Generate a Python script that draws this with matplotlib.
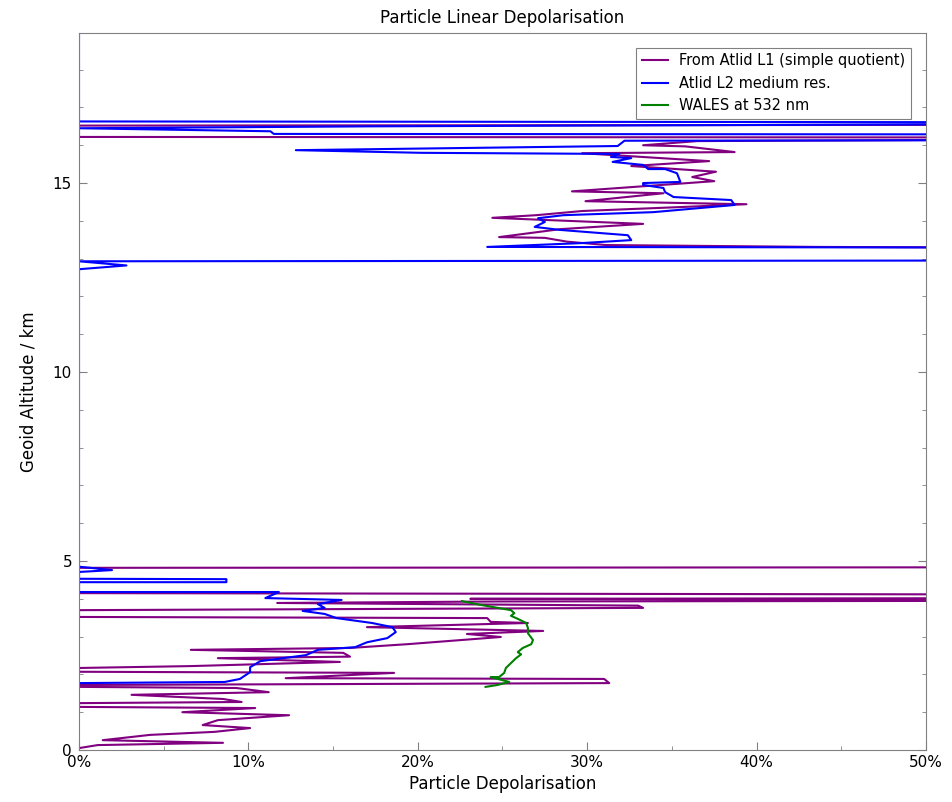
import numpy as np
import matplotlib
matplotlib.use("Agg")
import matplotlib.pyplot as plt
from matplotlib.ticker import MultipleLocator, PercentFormatter

# depolarisation in %, altitude in km (values beyond 50 % are off-scale)
l1_upper_dep = [80, 0.0, 0.0, 80, 36.5, 33.3, 35.8, 38.7, 29.7, 37.2, 32.6, 37.6, 36.2, 37.5,
                29.1, 34.5, 29.9, 39.4, 35.8, 29.7, 27.0, 24.4, 33.3, 28.4, 24.8, 27.5,
                28.8, 31.1, 43.7, 80]
l1_upper_alt = [16.55, 16.52, 16.22, 16.2, 16.11, 16.0, 15.97, 15.82, 15.79, 15.58, 15.45, 15.3,
                15.16, 15.05, 14.78, 14.73, 14.52, 14.44, 14.37, 14.26, 14.15, 14.08, 13.92,
                13.78, 13.57, 13.55, 13.45, 13.36, 13.31, 13.26]

l1_lower_dep = [0.0, 1.1, 8.5, 1.4, 4.2, 8.0, 10.1, 7.3, 8.2, 12.4, 6.1, 10.4, 0.0, 0.0, 9.6,
                8.5, 3.1, 11.2, 9.3, 0.0, 0.0, 31.3, 31.0, 12.2, 18.6, 0.0, 0.0, 6.6, 15.4,
                8.2, 16.0, 15.6, 6.6, 16.0, 19.4, 24.9, 22.9, 27.4, 17.0, 26.5, 24.3, 24.1,
                0.0, 0.0, 33.3, 33.0, 11.7, 24.8, 80, 23.1, 80, 80, 0.0, 0.0, 80]
l1_lower_alt = [0.05, 0.13, 0.19, 0.26, 0.40, 0.48, 0.58, 0.66, 0.79, 0.92, 1.00, 1.11, 1.14,
                1.24, 1.27, 1.35, 1.46, 1.53, 1.64, 1.67, 1.72, 1.77, 1.88, 1.90, 2.04, 2.07,
                2.17, 2.22, 2.33, 2.43, 2.47, 2.57, 2.65, 2.70, 2.80, 2.99, 3.07, 3.15, 3.25,
                3.36, 3.39, 3.49, 3.52, 3.70, 3.76, 3.82, 3.89, 3.93, 3.96, 4.00, 4.03, 4.10,
                4.15, 4.82, 4.84]

l2_upper_dep = [0.0, 0.0, 80, 17.1, 0.0, 11.3, 11.5, 80, 80, 32.2, 31.8, 12.8, 20.2, 31.9,
                31.4, 32.6, 31.5, 33.3, 33.6, 34.6, 35.3, 35.5, 33.3, 33.3, 34.5, 34.6, 35.1,
                38.5, 38.7, 33.9, 28.6, 27.1, 27.5, 26.9, 28.4, 32.4, 32.6, 29.6, 24.1, 80,
                80, 0.0, 2.8, 0.0]
l2_upper_alt = [18.97, 16.63, 16.6, 16.5, 16.45, 16.37, 16.3, 16.28, 16.15, 16.12, 15.98, 15.87,
                15.8, 15.77, 15.69, 15.66, 15.56, 15.48, 15.37, 15.37, 15.26, 15.03, 15.0,
                14.95, 14.87, 14.76, 14.63, 14.55, 14.42, 14.23, 14.15, 14.07, 13.97, 13.84,
                13.76, 13.62, 13.49, 13.41, 13.31, 13.28, 12.96, 12.93, 12.82, 12.72]

l2_lower_dep = [0.0, 0.0, 1.95, 0.0, 0.0, 8.7, 8.7, 0.0, 0.0, 11.8, 11.0, 15.5, 14.1, 14.5,
                13.2, 14.5, 15.2, 17.3, 18.5, 18.7, 18.2, 17.0, 16.3, 14.1, 13.4, 10.7, 10.1,
                10.1, 9.5, 8.6, 0.0]
l2_lower_alt = [12.72, 4.85, 4.76, 4.71, 4.53, 4.52, 4.44, 4.44, 4.18, 4.18, 4.02, 3.97, 3.86,
                3.76, 3.68, 3.60, 3.49, 3.36, 3.25, 3.12, 2.96, 2.85, 2.72, 2.65, 2.51, 2.35,
                2.19, 2.06, 1.88, 1.80, 1.77]

wales_dep = [22.6, 23.7, 25.5, 25.7, 25.5, 25.9, 26.4, 26.5, 26.5, 26.8, 26.7, 26.2, 25.9,
             26.1, 25.8, 25.5, 25.2, 25.1, 24.8, 24.3, 25.4, 24.7, 24.0]
wales_alt = [3.94, 3.84, 3.70, 3.62, 3.55, 3.47, 3.36, 3.23, 3.09, 2.91, 2.80, 2.70, 2.59,
             2.53, 2.43, 2.30, 2.17, 2.04, 1.93, 1.93, 1.80, 1.72, 1.67]

purple = "#800080"
blue = "#0000ff"
green = "#008000"
grey = "#808080"

fig = plt.figure(figsize=(9.53, 8.02), dpi=100)
ax = fig.add_axes([79 / 953, 1 - 750 / 802, (926 - 79) / 953, (750 - 33) / 802])

ax.plot(l1_upper_dep, l1_upper_alt, color=purple, lw=1.5, label="From Atlid L1 (simple quotient)")
ax.plot(l1_lower_dep, l1_lower_alt, color=purple, lw=1.5)
ax.plot(l2_upper_dep, l2_upper_alt, color=blue, lw=1.5, label="Atlid L2 medium res.")
ax.plot(l2_lower_dep, l2_lower_alt, color=blue, lw=1.5)
ax.plot(wales_dep, wales_alt, color=green, lw=1.5, label="WALES at 532 nm")

ax.set_xlim(0, 50)
ax.set_ylim(0, 18.97)
ax.xaxis.set_major_locator(MultipleLocator(10))
ax.xaxis.set_minor_locator(MultipleLocator(5))
ax.xaxis.set_major_formatter(PercentFormatter(decimals=0))
ax.yaxis.set_major_locator(MultipleLocator(5))
ax.yaxis.set_minor_locator(MultipleLocator(1))
ax.tick_params(which="both", direction="in", color=grey, labelsize=11, right=True)
ax.tick_params(which="major", length=6)
ax.tick_params(which="minor", length=3)
ax.tick_params(axis="y", pad=5)
for s in ax.spines.values():
    s.set_color(grey)

ax.set_title("Particle Linear Depolarisation", fontsize=12, pad=7)
ax.set_xlabel("Particle Depolarisation", fontsize=12, labelpad=4)
ax.set_ylabel("Geoid Altitude / km", fontsize=12, labelpad=11)

leg = ax.legend(loc="upper right", fontsize=10.5, fancybox=False, framealpha=1,
                edgecolor=grey, handlelength=1.8, borderaxespad=1.0)
leg.get_frame().set_linewidth(0.8)

fig.savefig("out.png", dpi=100)
